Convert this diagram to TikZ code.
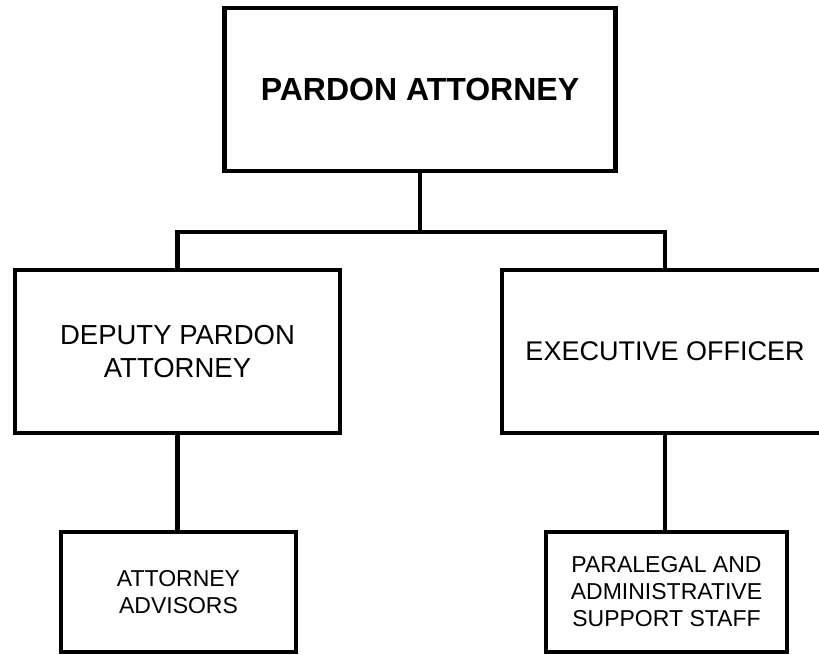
\documentclass[tikz,border=0pt]{standalone}
\usepackage{fontspec}
\setmainfont{Liberation Sans}
\usepackage{tikz}

\begin{document}
\begin{tikzpicture}[x=1pt, y=1pt,
  orgbox/.style={draw=black, line width=4.5pt, align=center, inner sep=0pt},
  link/.style={draw=black, line width=4.5pt}]
\useasboundingbox (0,0) rectangle (819,654);
\node[orgbox, minimum width=391pt, minimum height=163pt, font=\fontsize{32}{38}\selectfont\bfseries] (pardon) at (420,564.5) {PARDON ATTORNEY};
\node[orgbox, minimum width=325pt, minimum height=163pt, font=\fontsize{27.5}{33}\selectfont] (deputy) at (177.5,302.5) {DEPUTY PARDON\\ATTORNEY};
\node[orgbox, minimum width=326pt, minimum height=163pt, font=\fontsize{27}{33}\selectfont] (exec) at (665,302.5) {EXECUTIVE OFFICER};
\node[orgbox, minimum width=235pt, minimum height=120pt, font=\fontsize{23}{27}\selectfont] (advisors) at (178.5,62) {ATTORNEY\\ADVISORS};
\node[orgbox, minimum width=241pt, minimum height=120pt, font=\fontsize{23}{27}\selectfont] (staff) at (666.5,62) {PARALEGAL AND\\ADMINISTRATIVE\\SUPPORT STAFF};
\coordinate (bus) at (420,422);
\draw[link] (pardon.south) -- (bus);
\draw[link] (bus) -| (deputy.north);
\draw[link] (bus) -| (exec.north);
\draw[link] (deputy.south) -- (deputy.south |- advisors.north);
\draw[link] (exec.south) -- (exec.south |- staff.north);
\end{tikzpicture}
\end{document}
